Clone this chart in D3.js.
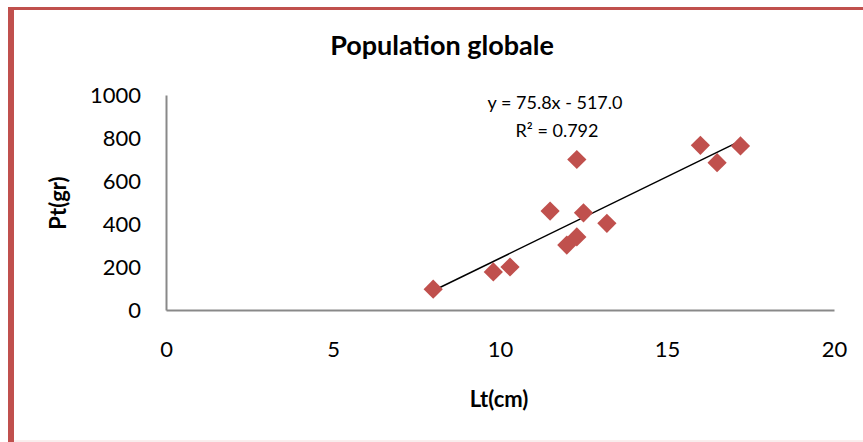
<!DOCTYPE html>
<html>
<head>
<meta charset="utf-8">
<script src="https://cdn.jsdelivr.net/npm/d3@7"></script>
<style>
  body { margin: 0; background: #fff; }
  text { font-family: Lato, "Open Sans", sans-serif; }
</style>
</head>
<body>
<div id="chart"></div>
<script>
const markerColor = "#C0504D";

// Lt(cm) / Pt(gr) pairs
const lengths = [8.0, 9.8, 10.3, 11.5, 12.0, 12.3, 12.3, 12.5, 13.2, 16.0, 16.5, 17.2];
const weights = [97, 177, 200, 460, 302, 340, 700, 452, 403, 766, 685, 763];

const xTicks = [0, 5, 10, 15, 20];
const yTicks = [0, 200, 400, 600, 800, 1000];

// trend line as printed on the chart
const slope = 75.8;
const intercept = -517.0;
const r2 = 0.792;

const points = lengths.map((x, i) => ({ x: x, y: weights[i] }));

const svgWidth = 863;
const svgHeight = 442;
const plot = { left: 166, right: 834, top: 95, bottom: 310 };

const svg = d3.select("#chart")
  .append("svg")
  .attr("width", svgWidth)
  .attr("height", svgHeight);

// frame around the chart
svg.append("rect")
  .attr("x", 8).attr("y", 7)
  .attr("width", svgWidth - 8).attr("height", 3)
  .attr("fill", markerColor);
svg.append("rect")
  .attr("x", 8).attr("y", 7)
  .attr("width", 6).attr("height", svgHeight - 7)
  .attr("fill", markerColor);
svg.append("line")
  .attr("x1", 14).attr("x2", svgWidth)
  .attr("y1", 441).attr("y2", 441)
  .attr("stroke", "#f2dcdb");

const xScale = d3.scaleLinear()
  .domain([0, 20])
  .range([plot.left, plot.right]);

const yScale = d3.scaleLinear()
  .domain([0, 1000])
  .range([plot.bottom, plot.top]);

// axes
const xAxis = d3.axisBottom(xScale)
  .tickValues(xTicks)
  .tickSize(0)
  .tickPadding(31);

const xAxisGroup = svg.append("g")
  .attr("transform", `translate(0,${plot.bottom})`)
  .call(xAxis);

xAxisGroup.select(".domain")
  .attr("stroke", "#898989")
  .attr("stroke-width", 2);

xAxisGroup.selectAll(".tick text")
  .attr("font-size", 22)
  .attr("font-family", "Lato")
  .attr("fill", "#000");

const yAxis = d3.axisLeft(yScale)
  .tickValues(yTicks)
  .tickFormat(d3.format("d"))
  .tickSize(0)
  .tickPadding(25);

const yAxisGroup = svg.append("g")
  .attr("transform", `translate(${plot.left},0)`)
  .call(yAxis);

yAxisGroup.select(".domain")
  .attr("stroke", "#898989")
  .attr("stroke-width", 2);

yAxisGroup.selectAll(".tick text")
  .attr("font-size", 22)
  .attr("font-family", "Lato")
  .attr("fill", "#000");

// titles
svg.append("text")
  .attr("x", 442)
  .attr("y", 55)
  .attr("text-anchor", "middle")
  .attr("font-size", 27)
  .attr("font-weight", "bold")
  .text("Population globale");

svg.append("text")
  .attr("x", 499)
  .attr("y", 407)
  .attr("text-anchor", "middle")
  .attr("font-size", 22)
  .attr("font-weight", "bold")
  .text("Lt(cm)");

svg.append("text")
  .attr("transform", "translate(66,203) rotate(-90)")
  .attr("text-anchor", "middle")
  .attr("font-size", 22)
  .attr("font-weight", "bold")
  .text("Pt(gr)");

// trend line over the data range
const xExtent = d3.extent(lengths);
svg.append("line")
  .attr("x1", xScale(xExtent[0]))
  .attr("y1", yScale(slope * xExtent[0] + intercept))
  .attr("x2", xScale(xExtent[1]))
  .attr("y2", yScale(slope * xExtent[1] + intercept))
  .attr("stroke", "#000")
  .attr("stroke-width", 1.5);

// markers
svg.selectAll(".point")
  .data(points)
  .enter()
  .append("path")
  .attr("class", "point")
  .attr("d", d3.symbol().type(d3.symbolSquare).size(185))
  .attr("transform", d => `translate(${xScale(d.x)},${yScale(d.y)}) rotate(45)`)
  .attr("fill", markerColor);

// equation label
svg.append("text")
  .attr("x", 555)
  .attr("y", 109)
  .attr("text-anchor", "middle")
  .attr("font-size", 18)
  .text(`y = ${slope.toFixed(1)}x - ${Math.abs(intercept).toFixed(1)}`);

svg.append("text")
  .attr("x", 557)
  .attr("y", 137)
  .attr("text-anchor", "middle")
  .attr("font-size", 18)
  .text(`R² = ${r2}`);
</script>
</body>
</html>
